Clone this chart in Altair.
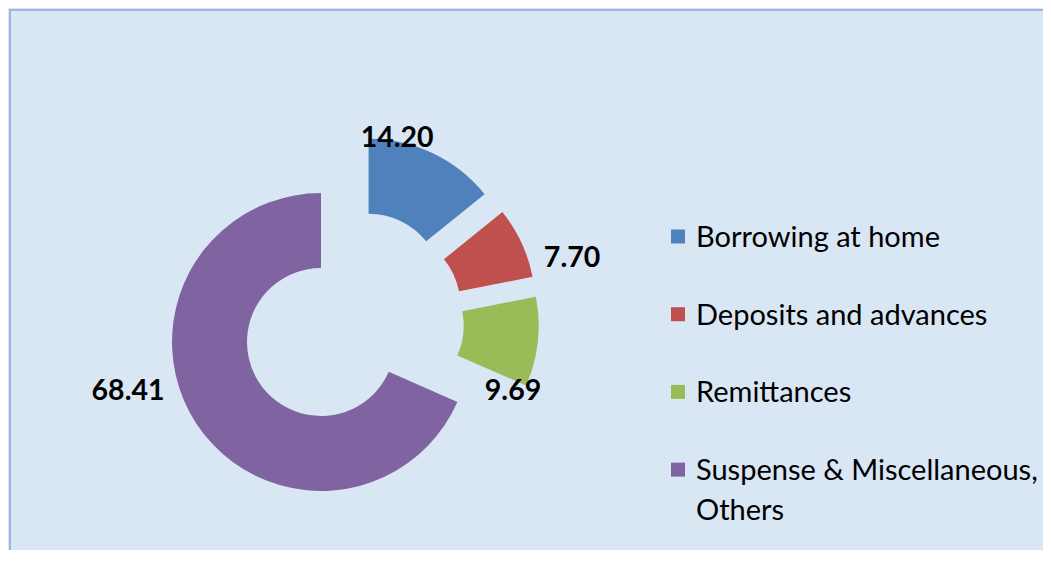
import math
import altair as alt
import pandas as pd

# ---- data ----
categories = [
    "Borrowing at home",
    "Deposits and advances",
    "Remittances",
    "Suspense & Miscellaneous, Others",
]
values = [14.20, 7.70, 9.69, 68.41]
colors = ["#4f81bd", "#c0504d", "#9bbb59", "#8064a2"]

# ---- layout (pixels / degrees) ----
W, H = 1035, 542
CX, CY = 343.4, 313.5          # doughnut centre before explosion
EXPLODE = 37.5                  # explosion distance of every slice
R_OUT, R_IN = 149, 74
LABEL_ANGLE = [13.7, 73.9, 113.4, 252.8]     # label direction from centre
LABEL_RADIUS = [188.8, 228.6, 175.0, 234.9]  # label distance from centre
LEG_SYM_X, LEG_TEXT_X = 669, 687
LEG_Y0, LEG_STEP = 228.5, 77.7
FONT = "Lato"
BG = "#d9e6f4"

df = pd.DataFrame({
    "category": categories,
    "value": values,
    "order": list(range(len(categories))),
    "la": LABEL_ANGLE,
    "lr": LABEL_RADIUS,
})

color_scale = alt.Scale(domain=categories, range=colors)

base = (
    alt.Chart(df)
    .transform_joinaggregate(total="sum(value)")
    .transform_window(cum="sum(value)", sort=[alt.SortField("order")], frame=[None, 0])
    .transform_calculate(
        t1="datum.cum / datum.total * 100",
        t0="(datum.cum - datum.value) / datum.total * 100",
    )
    .transform_calculate(
        mid="PI * (datum.t0 + datum.t1) / 100",
    )
    .transform_calculate(
        cx=f"{CX} + {EXPLODE} * sin(datum.mid)",
        cy=f"{CY} - {EXPLODE} * cos(datum.mid)",
        lx=f"{CX} + datum.lr * sin(datum.la * PI / 180)",
        ly=f"{CY} - datum.lr * cos(datum.la * PI / 180)",
    )
)

arcs = base.mark_arc(innerRadius=R_IN, outerRadius=R_OUT).encode(
    theta=alt.Theta("t0:Q", scale=alt.Scale(domain=[0, 100], range=[0, 2 * math.pi])),
    theta2="t1:Q",
    x=alt.X("cx:Q", scale=None, stack=False),
    y=alt.Y("cy:Q", scale=None, stack=False),
    color=alt.Color("category:N", scale=color_scale, legend=None),
)

labels = base.mark_text(
    font=FONT, fontSize=28.5, fontWeight="bold", color="#000000",
    align="center", baseline="middle",
).encode(
    x=alt.X("lx:Q", scale=None),
    y=alt.Y("ly:Q", scale=None),
    text=alt.Text("value:Q", format=".2f"),
)

leg = alt.Chart(df).transform_calculate(
    ry=f"{LEG_Y0} + datum.order * {LEG_STEP}",
    txt="replace(datum.category, ', ', ',\\n')",
)

leg_sym = leg.mark_square(size=196, opacity=1).encode(
    x=alt.value(LEG_SYM_X),
    y=alt.Y("ry:Q", scale=None),
    color=alt.Color("category:N", scale=color_scale, legend=None),
)

leg_txt = leg.mark_text(
    font=FONT, fontSize=29, color="#000000", align="left",
    baseline="alphabetic", dy=10.5, lineBreak="\n", lineHeight=40,
).encode(
    x=alt.value(LEG_TEXT_X),
    y=alt.Y("ry:Q", scale=None),
    text="txt:N",
)

frame = alt.Chart(alt.Data(values=[{}]))
top_line = frame.mark_rule(color="#9cb6e6", strokeWidth=2).encode(
    x=alt.value(0), x2=alt.value(W), y=alt.value(2)
)
left_line = frame.mark_rule(color="#9cb6e6", strokeWidth=2).encode(
    x=alt.value(1), y=alt.value(2), y2=alt.value(H)
)

chart = (
    alt.layer(arcs, labels, leg_sym, leg_txt, top_line, left_line)
    .properties(
        width=W, height=H, padding=0,
        autosize=alt.AutoSizeParams(type="fit", contains="padding"),
        background=BG,
    )
    .configure_view(strokeWidth=0)
)

chart.save("out.html", embed_options={"renderer": "svg", "actions": False})
